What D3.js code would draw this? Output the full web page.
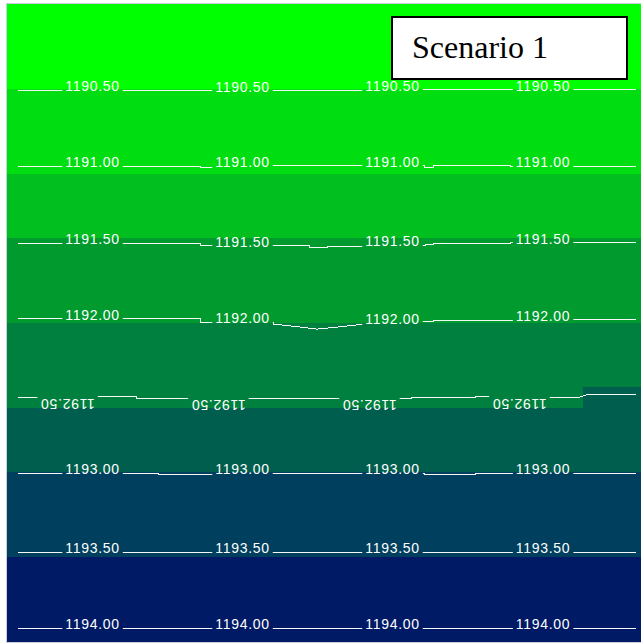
<!DOCTYPE html>
<html>
<head>
<meta charset="utf-8">
<script src="https://cdn.jsdelivr.net/npm/d3@7"></script>
<style>
  html, body { margin: 0; padding: 0; background: #ffffff; }
  svg { display: block; }
</style>
</head>
<body>
<div id="chart"></div>
<script>
// Water-surface elevation contours over a 30 x 30 cell grid (10 m cells).

// Contour levels (elevation, m)
const levels = [1190.5, 1191.0, 1191.5, 1192.0, 1192.5, 1193.0, 1193.5, 1194.0];

// Fill colour of each elevation class (class 0 = below 1190.50 ... class 7 = above 1193.50)
const classColors = ["#00ff00", "#00dd11", "#00bf1f", "#009a2e", "#00803e", "#005e4e", "#00405e", "#001a66"];

// Elevation class of the cells in each grid row (row 0 = upstream edge)
const rowClass = [0, 0, 0, 0, 1, 1, 1, 1, 2, 2, 2, 3, 3, 3, 3, 4, 4, 4, 4, 5, 5, 5, 6, 6, 6, 6, 7, 7, 7, 7];

// Cells whose class differs from the rest of their row: [row, column, class]
const cellOverrides = [[18, 27, 5], [18, 28, 5], [18, 29, 5]];

// Contour polylines, [easting m, northing m]
const contour1190_50 = [[5.2, 40.6], [54.8, 40.6], [54.8, 40.9], [166.9, 40.9], [166.9, 40.4], [294.8, 40.4]];
const contour1191_00 = [[5.2, 76.2], [90.5, 76.2], [90.5, 76.9], [100, 76.9], [100, 76.0], [195.9, 76.0], [195.9, 76.7],
  [199.7, 76.7], [199.7, 76.0], [236, 76.0], [236, 76.2], [294.8, 76.2]];
const contour1191_50 = [[5.2, 112.5], [90.5, 112.5], [90.5, 113.6], [142, 113.6], [142, 114.7], [150, 114.7], [150, 113.8],
  [170, 113.8], [170, 113.4], [196, 113.4], [196, 112.9], [200, 112.9], [200, 112.7], [236, 112.7], [236, 112.3], [294.8, 112.3]];
const contour1192_00 = [[5.2, 148.1], [90.5, 148.1], [90.5, 149.6], [124.7, 149.6], [124.7, 150.5], [135, 151.6], [145.3, 152.9],
  [156, 151.8], [166.9, 150.6], [195.9, 149.4], [199.7, 149.4], [199.7, 148.9], [236.2, 148.9], [253, 148.3], [294.8, 148.3]];
const contour1192_50 = [[5.2, 185.1], [38, 185.1], [38, 184.65], [60.9, 184.65], [60.9, 185.7], [98, 185.7], [98, 185.5],
  [182.8, 185.5], [182.8, 185.7], [189.8, 185.7], [189.8, 185.1], [219.4, 185.1], [219.4, 184.65], [235, 184.65], [235, 185.1],
  [267.7, 185.1], [272.3, 183.6], [294.8, 183.6]];
const contour1193_00 = [[5.2, 220.7], [70.8, 220.7], [70.8, 221.2], [100, 221.2], [100, 220.7], [195.9, 220.7], [195.9, 221.2],
  [219.4, 221.2], [219.4, 220.7], [294.8, 220.7]];
const contour1193_50 = [[5.2, 257.9], [294.8, 257.9]];
const contour1194_00 = [[5.2, 293.6], [294.8, 293.6]];
const contourPaths = [contour1190_50, contour1191_00, contour1191_50, contour1192_00,
  contour1192_50, contour1193_00, contour1193_50, contour1194_00];

// Label stations along each contour (easting, m)
const labelStations = [40.1, 110.4, 180.7, 251.3];
const flippedLabelStations = [28.4, 99.1, 169.9, 240.2];
const flippedLevels = [1192.5];

const title = "Scenario 1";

const W = 641, H = 644;
const cellSize = 10, nRows = 30, nCols = 30;

const x = d3.scaleLinear().domain([0, nCols * cellSize]).range([7, 647]);
const y = d3.scaleLinear().domain([0, nRows * cellSize]).range([4, 642]);
const color = d3.scaleOrdinal().domain(d3.range(classColors.length)).range(classColors);
const fmt = d3.format(".2f");

const svg = d3.select("#chart").append("svg").attr("width", W).attr("height", H);
const defs = svg.append("defs");

defs.append("clipPath").attr("id", "plot-clip")
  .append("rect").attr("x", 7).attr("y", 4).attr("width", W - 7).attr("height", 638);

// Plot frame
svg.append("rect")
  .attr("x", 6.5).attr("y", 3.5).attr("width", W).attr("height", 639)
  .attr("fill", "none").attr("stroke", "#c9d0dc").attr("stroke-width", 1);

// Cell raster
const overrideMap = new Map(cellOverrides.map(([r, c, k]) => [r + "," + c, k]));
const cells = d3.cross(d3.range(nRows), d3.range(nCols)).map(([r, c]) => ({
  r, c, k: overrideMap.has(r + "," + c) ? overrideMap.get(r + "," + c) : rowClass[r]
}));

svg.append("g").attr("clip-path", "url(#plot-clip)")
  .selectAll("rect").data(cells).join("rect")
  .attr("x", d => x(d.c * cellSize))
  .attr("y", d => y(d.r * cellSize))
  .attr("width", d => x((d.c + 1) * cellSize) - x(d.c * cellSize))
  .attr("height", d => y((d.r + 1) * cellSize) - y(d.r * cellSize))
  .attr("fill", d => color(d.k))
  .attr("shape-rendering", "crispEdges");

// Northing of a contour at a given easting
function northingAt(path, e) {
  for (let i = 0; i < path.length - 1; i++) {
    const [x0, y0] = path[i], [x1, y1] = path[i + 1];
    if (x1 !== x0 && e >= Math.min(x0, x1) && e <= Math.max(x0, x1)) {
      return y0 + (y1 - y0) * (e - x0) / (x1 - x0);
    }
  }
  return path[path.length - 1][1];
}

const line = d3.line().x(d => x(d[0])).y(d => y(d[1]));

// Mask that breaks the contour lines under their labels
const mask = defs.append("mask").attr("id", "label-gaps")
  .attr("maskUnits", "userSpaceOnUse")
  .attr("x", 0).attr("y", 0).attr("width", W).attr("height", H);
mask.append("rect").attr("x", 0).attr("y", 0).attr("width", W).attr("height", H).attr("fill", "white");

const contourG = svg.append("g").attr("clip-path", "url(#plot-clip)");
const linesG = contourG.append("g").attr("mask", "url(#label-gaps)");
const labelsG = contourG.append("g");

linesG.selectAll("path").data(levels).join("path")
  .attr("d", (lv, i) => line(contourPaths[i]))
  .attr("fill", "none")
  .attr("stroke", "#f6f8f8")
  .attr("stroke-width", 1)
  .attr("shape-rendering", "crispEdges");

const labels = [];
levels.forEach((lv, i) => {
  const flipped = flippedLevels.includes(lv);
  (flipped ? flippedLabelStations : labelStations).forEach(e => {
    labels.push({ lv, i, e, flipped, n: northingAt(contourPaths[i], e) });
  });
});

labelsG.selectAll("text").data(labels).join("text")
  .attr("x", d => x(d.e))
  .attr("y", d => y(d.n) + 1)
  .attr("transform", d => d.flipped ? `rotate(180, ${x(d.e)}, ${y(d.n) + 1})` : null)
  .attr("text-anchor", "middle")
  .attr("font-family", "'Liberation Sans', Arial, sans-serif")
  .attr("font-size", 14)
  .attr("letter-spacing", "0.7px")
  .attr("fill", "#ffffff")
  .text(d => fmt(d.lv))
  .each(function (d) {
    const len = this.getComputedTextLength();
    mask.append("rect")
      .attr("x", x(d.e) - len / 2 - 3)
      .attr("y", y(d.n) - 14)
      .attr("width", len + 6)
      .attr("height", 28)
      .attr("fill", "black");
  });

// Scenario title box
const tb = svg.append("g");
tb.append("rect")
  .attr("x", 392).attr("y", 17).attr("width", 235).attr("height", 62)
  .attr("fill", "#ffffff").attr("stroke", "#000000").attr("stroke-width", 2);
tb.append("text")
  .attr("x", 412).attr("y", 58)
  .attr("font-family", "'Liberation Serif', 'Times New Roman', serif")
  .attr("font-size", 32)
  .attr("fill", "#000000")
  .text(title);
</script>
</body>
</html>
